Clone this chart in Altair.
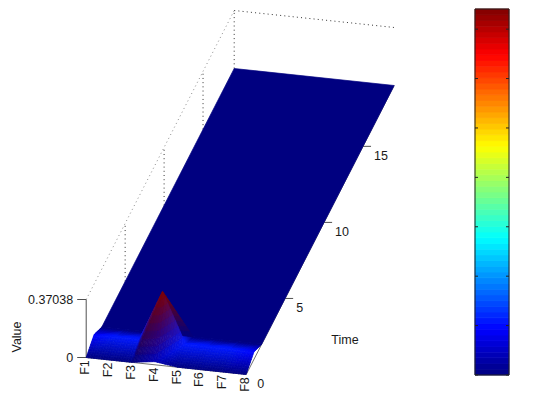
import altair as alt
import pandas as pd

# ---- data ----
features = ["F1", "F2", "F3", "F4", "F5", "F6", "F7", "F8"]
times = list(range(20))
z_max = 0.37038
value_t0 = [0.0, 0.0, 0.0, 0.02, 0.0, 0.0, 0.0, 0.0]
value_t1 = [0.048, 0.055, 0.055, 0.37038, 0.055, 0.055, 0.055, 0.048]
value_rest = [0.0, 0.0, 0.0, 0.0, 0.0, 0.0, 0.0, 0.0]
surface = [value_t0, value_t1] + [value_rest for _ in times[2:]]
time_ticks = [0, 5, 10, 15]
value_ticks = [0, z_max]
value_tick_labels = ["0", "0.37038"]
bar_ticks = [0, 0.05, 0.1, 0.15, 0.2, 0.25, 0.3, 0.35]
N_COLORS = 64
FONT = "Liberation Sans"
FS = 12.5


def project(f, t, z=0.0):
    """Orthographic view of (feature index, time, value) to panel units."""
    return (86.2 + 160 * f / 7 + 148 * t / 19,
            357.5 + 17 * f / 7 - 289 * t / 19 - 58 * z / z_max)


def jet(v):
    """MATLAB jet colormap, v in 0..1, as rgb 0..255."""
    def ch(x):
        return max(0.0, min(1.0, 1.5 - abs(4 * x)))
    return (255 * ch(v - 0.75), 255 * ch(v - 0.5), 255 * ch(v - 0.25))


def hexc(rgb):
    return "#%02x%02x%02x" % tuple(int(round(c)) for c in rgb)


x_scale = alt.Scale(domain=[8, 468], nice=False, zero=False)
y_scale = alt.Scale(domain=[388, 8], nice=False, zero=False)
X = alt.X("x:Q", scale=x_scale, axis=None)
Y = alt.Y("y:Q", scale=y_scale, axis=None)

# ---- surface: triangles, back to front, vertex colours blended in RGB ----
rows = []
pid = 0


def add_poly(pts, color):
    global pid
    for k, (px, py) in enumerate(pts):
        rows.append({"x": px, "y": py, "k": k, "id": pid, "c": color})
    pid += 1


def vertex(i, j):
    return (i, j, surface[j][i])


def tri(a, b, c, n):
    ca, cb, cc = [jet(p[2] / z_max) for p in (a, b, c)]

    def at(u, v):
        w = 1 - u - v
        return project(*[w * a[q] + u * b[q] + v * c[q] for q in range(3)])

    def col(u, v):
        w = 1 - u - v
        return hexc([w * ca[q] + u * cb[q] + v * cc[q] for q in range(3)])
    for p in range(n):
        for q in range(n - p):
            u0, v0 = p / n, q / n
            d = 1 / n
            add_poly([at(u0, v0), at(u0 + d, v0), at(u0, v0 + d)],
                     col(u0 + d / 3, v0 + d / 3))
            if p + q < n - 1:
                add_poly([at(u0 + d, v0), at(u0 + d, v0 + d), at(u0, v0 + d)],
                         col(u0 + 2 * d / 3, v0 + 2 * d / 3))


# the flat part of the sheet (every row equal to value_rest) is one piece
last_i, last_j = len(features) - 1, len(times) - 1
add_poly([project(*vertex(0, 2)), project(*vertex(last_i, 2)),
          project(*vertex(last_i, last_j)), project(*vertex(0, last_j))],
         hexc(jet(0)))
for j in (1, 0):
    for i in range(last_i):
        q = [vertex(i, j), vertex(i + 1, j), vertex(i + 1, j + 1), vertex(i, j + 1)]
        tri(q[0], q[1], q[2], 9)
        tri(q[0], q[2], q[3], 9)

surf = alt.Chart(pd.DataFrame(rows)).mark_line(
    filled=True, interpolate="linear-closed", strokeWidth=0.7, clip=False, opacity=1,
    fillOpacity=1, strokeOpacity=1,
).encode(
    x=X, y=Y, order="k:Q", detail="id:N",
    fill=alt.Fill("c:N", scale=None), stroke=alt.Stroke("c:N", scale=None),
)


# ---- box and axes ----
def seg(points, color, dash=None, width=1.0):
    df = pd.DataFrame([{"x": p[0], "y": p[1], "k": k} for k, p in enumerate(points)])
    kw = {"strokeDash": dash} if dash else {}
    return alt.Chart(df).mark_line(color=color, strokeWidth=width, clip=False, **kw).encode(
        x=X, y=Y, order="k:Q")


T_END = times[-1]
DOT = [1, 3.2]
layers = [
    seg([project(0, 0, z_max), project(0, T_END, z_max)], "#8c8c8c", DOT),
    seg([project(0, T_END, z_max), project(7, T_END, z_max)], "#333333", DOT),
    seg([project(0, T_END, 0), project(0, T_END, z_max)], "#333333", DOT),
]
for t in time_ticks[1:]:
    layers.append(seg([project(0, t, 0), project(0, t, z_max)], "#333333", DOT))
layers += [
    seg([project(0, 0, 0), project(7, 0, 0), project(7, T_END, 0)], "#707070"),
    seg([project(0, 0, 0), project(0, 0, z_max)], "#505050"),
]
for v in value_ticks:
    bx, by = project(0, 0, v)
    layers.append(seg([(bx - 9, by), (bx, by)], "#505050"))
for t in time_ticks[1:]:
    bx, by = project(7, t, 0)
    layers.append(seg([(bx, by), (bx + 8, by)], "#505050"))
layers.append(surf)


def labels(df, **kw):
    return alt.Chart(df).mark_text(font=FONT, fontSize=FS, color="#1a1a1a", clip=False, **kw).encode(
        x=X, y=Y, text="s:N")


f_df = pd.DataFrame([
    {"s": s, "x": project(i, 0)[0] - 1, "y": project(i, 0)[1] + 10}
    for i, s in enumerate(features)])
t_df = pd.DataFrame([
    {"s": str(t), "x": project(7, t)[0] + 11, "y": project(7, t)[1] + 9.5}
    for t in time_ticks])
v_df = pd.DataFrame([
    {"s": s, "x": project(0, 0, v)[0] - 13, "y": project(0, 0, v)[1]}
    for s, v in zip(value_tick_labels, value_ticks)])

layers += [
    labels(f_df, angle=270),
    labels(t_df, align="left"),
    labels(v_df, align="right"),
    labels(pd.DataFrame([{"s": "Value", "x": 17, "y": 337}]), angle=270),
    labels(pd.DataFrame([{"s": "Time", "x": 345, "y": 340}])),
]
main = alt.layer(*layers).properties(width=460, height=380, view=alt.ViewConfig(stroke=None))

# ---- colour bar ----
bar_h = 366
bar_w = 34
bands = pd.DataFrame({
    "a": [z_max * k / N_COLORS for k in range(N_COLORS)],
    "b": [z_max * (k + 1) / N_COLORS for k in range(N_COLORS)],
    "c": [hexc(jet((k + 0.5) / N_COLORS)) for k in range(N_COLORS)],
})
bar_y = alt.Scale(domain=[0, z_max], range=[bar_h + 1, 1], nice=False, zero=False)
bar = alt.Chart(bands).mark_rect(strokeWidth=0.8).encode(
    x=alt.value(0), x2=alt.value(bar_w),
    y=alt.Y("a:Q", scale=bar_y, axis=alt.Axis(
        orient="right", values=bar_ticks, domain=False, ticks=False, grid=False, title=None,
        labelFont=FONT, labelFontSize=11, labelColor="#1a1a1a", labelPadding=3,
        labelExpr="format(datum.value, '~g')")),
    y2="b:Q",
    fill=alt.Fill("c:N", scale=None),
    stroke=alt.Stroke("c:N", scale=None),
)
tdf = pd.DataFrame({"v": bar_ticks})
tick_l = alt.Chart(tdf).mark_rule(color="#222222").encode(
    y=alt.Y("v:Q", scale=bar_y, axis=None), x=alt.value(0), x2=alt.value(3))
tick_r = alt.Chart(tdf).mark_rule(color="#222222").encode(
    y=alt.Y("v:Q", scale=bar_y, axis=None), x=alt.value(bar_w - 3), x2=alt.value(bar_w))
frame = alt.Chart(pd.DataFrame({"a": [0], "b": [z_max]})).mark_rect(
    fillOpacity=0, stroke="#222222", strokeWidth=1).encode(
    x=alt.value(0), x2=alt.value(bar_w),
    y=alt.Y("a:Q", scale=bar_y, axis=None), y2="b:Q")
colorbar = alt.layer(bar, tick_l, tick_r, frame).properties(
    width=bar_w, height=bar_h + 1, view=alt.ViewConfig(stroke=None))

chart = alt.hconcat(main, colorbar, spacing=6).properties(
    padding=0, background="white"
)

chart.save("out.html", embed_options={"renderer": "svg", "actions": False})
